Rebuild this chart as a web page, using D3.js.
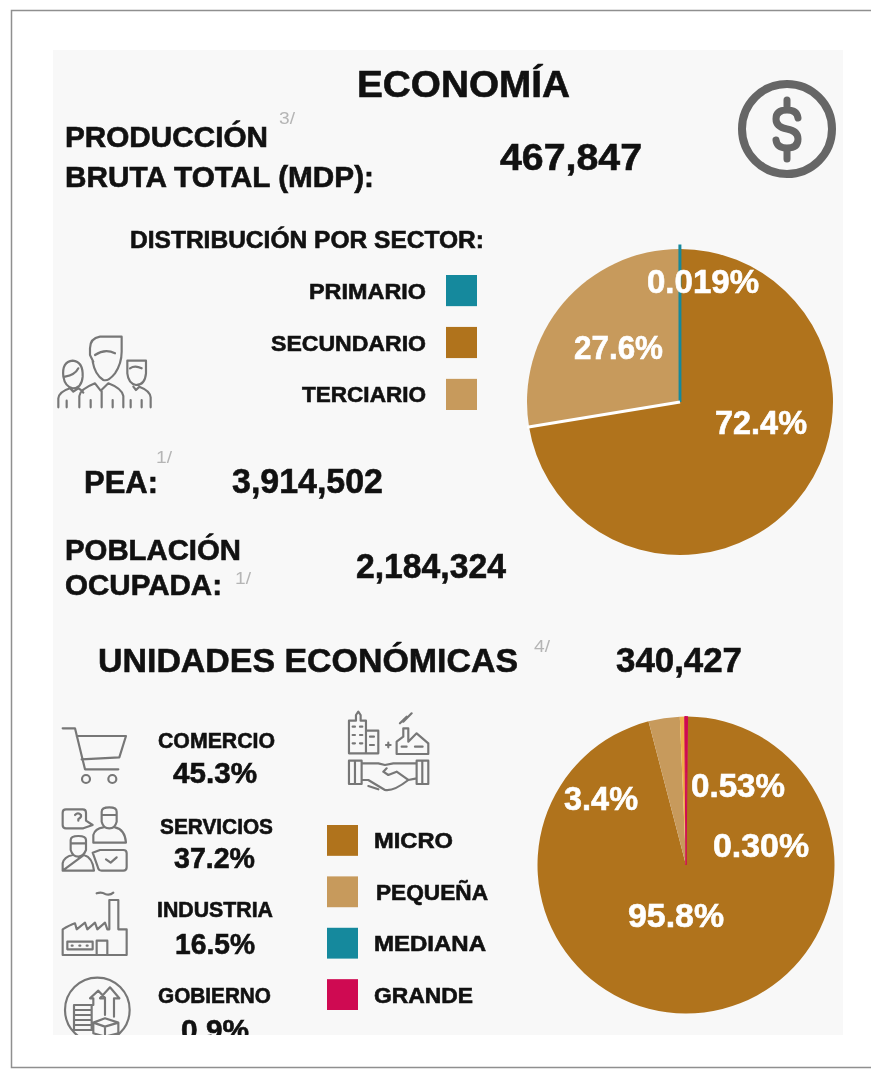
<!DOCTYPE html>
<html>
<head>
<meta charset="utf-8">
<script src="https://cdn.jsdelivr.net/npm/d3@7"></script>
<style>
  html, body { margin: 0; padding: 0; background: #fff; }
  svg { display: block; filter: blur(0.55px); }
  text { font-family: "Liberation Sans", Arial, sans-serif; font-weight: 700; }
</style>
</head>
<body>
<svg id="chart" width="871" height="1069"></svg>
<script>
// 生産額の部門別
const sectorNames = ["SECUNDARIO", "TERCIARIO", "PRIMARIO"];
const sectorValues = [72.4, 27.6, 0.019];
const sectorLabels = ["72.4%", "27.6%", "0.019%"];
const sectorLegend = ["PRIMARIO", "SECUNDARIO", "TERCIARIO"];

// 事業所の規模別
const sizeNames = ["MICRO", "PEQUEÑA", "MEDIANA", "GRANDE"];
const sizeValues = [95.8, 3.4, 0.53, 0.30];
const sizeLabels = ["95.8%", "3.4%", "0.53%", "0.30%"];

// 業種別
const activityNames = ["COMERCIO", "SERVICIOS", "INDUSTRIA", "GOBIERNO"];
const activityValues = ["45.3%", "37.2%", "16.5%", "0.9%"];

const brown = "#b0731c", tan = "#c79a5c", teal = "#15899d", crimson = "#cf0a52";
const sectorColor = d3.scaleOrdinal().domain(sectorNames).range([brown, tan, teal]);
// 円グラフでは MEDIANA が黄色で描かれている
const sizePieColor = d3.scaleOrdinal().domain(sizeNames).range([brown, tan, "#eeb04a", crimson]);
const sizeLegendColor = d3.scaleOrdinal().domain(sizeNames).range([brown, tan, teal, crimson]);

const svg = d3.select("#chart");

// 枠と背景
svg.append("path").attr("d", "M871,10.5H11.5V1067.5H871").attr("fill", "none").attr("stroke", "#8f8f8f").attr("stroke-width", 1.5);
svg.append("rect").attr("x", 53).attr("y", 50).attr("width", 790).attr("height", 985).attr("fill", "#f8f8f8");

svg.append("defs").append("clipPath").attr("id", "panel")
  .append("rect").attr("x", 53).attr("y", 50).attr("width", 790).attr("height", 985);

const root = svg.append("g").attr("clip-path", "url(#panel)");

// x0 から x1 の幅に文字を合わせる
function label(parent, str, x0, x1, y, size, color) {
  return parent.append("text").attr("x", x0).attr("y", y)
    .attr("font-size", size)
    .attr("textLength", x1 - x0)
    .attr("lengthAdjust", "spacingAndGlyphs")
    .attr("stroke", color || "#111").attr("stroke-width", 0.6)
    .attr("fill", color || "#111")
    .text(str);
}
function note(str, x, y) {
  return root.append("text").attr("x", x).attr("y", y).attr("font-size", 17)
    .attr("textLength", 16).attr("lengthAdjust", "spacingAndGlyphs")
    .attr("fill", "#b5b5b5").style("font-weight", 400).text(str);
}

// 見出し
label(root, "ECONOMÍA", 357, 570, 97, 37);
label(root, "PRODUCCIÓN", 65, 268, 147, 29);
label(root, "BRUTA TOTAL (MDP):", 65, 374, 187, 29);
label(root, "467,847", 500, 642, 170, 37);
note("3/", 279, 124);
label(root, "DISTRIBUCIÓN POR SECTOR:", 130, 484, 248, 24);

label(root, "PEA:", 84, 158, 493, 32);
note("1/", 156, 463);
label(root, "3,914,502", 232, 383, 493, 35);
label(root, "POBLACIÓN", 65, 241, 560, 29);
label(root, "OCUPADA:", 65, 222, 595, 29);
note("1/", 235, 584);
label(root, "2,184,324", 356, 506, 578, 35);
label(root, "UNIDADES ECONÓMICAS", 98, 518, 672, 34);
note("4/", 534, 652);
label(root, "340,427", 616, 742, 672, 35);

// 凡例(部門)
const sectorLegendX = [309, 271, 302];
const legendY = d3.scaleBand().domain(sectorLegend).range([275, 410]).paddingInner(0.4);
sectorLegend.forEach(function(d, i) {
  label(root, d, sectorLegendX[i], 426, legendY(d) + legendY.bandwidth() / 2 + 8, 22);
  root.append("rect").attr("x", 446).attr("y", legendY(d)).attr("width", 31).attr("height", legendY.bandwidth()).attr("fill", sectorColor(d));
});

// 凡例(規模)
const sizeLegendX = [[374, 453], [376, 488], [374, 486], [374, 473]];
const sizeLegendY = d3.scaleBand().domain(sizeNames).range([825, 1010]).paddingInner(0.4);
sizeNames.forEach(function(d, i) {
  label(root, d, sizeLegendX[i][0], sizeLegendX[i][1], sizeLegendY(d) + sizeLegendY.bandwidth() / 2 + 8, 22);
  root.append("rect").attr("x", 327).attr("y", sizeLegendY(d)).attr("width", 31).attr("height", sizeLegendY.bandwidth()).attr("fill", sizeLegendColor(d));
});

// 業種リスト
const activityNameX = [[158, 275], [160, 273], [157, 273], [158, 271]];
const activityValueX = [[173, 257], [174, 255], [175, 255], [181, 249]];
const activityNameY = [748, 834, 917, 1003];
const activityValueY = [783, 868, 954, 1040];
activityNames.forEach(function(d, i) {
  label(root, d, activityNameX[i][0], activityNameX[i][1], activityNameY[i], 22);
  label(root, activityValues[i], activityValueX[i][0], activityValueX[i][1], activityValueY[i], 29);
});

// 円グラフ1
const pie1 = root.append("g").attr("transform", "translate(680,402)");
const arc1 = d3.arc().innerRadius(0).outerRadius(153);
const slices1 = d3.pie().sort(null).value(d => d)(sectorValues);
pie1.selectAll("path").data(slices1).join("path")
  .attr("d", (d, i) => i === 2 ? d3.arc().innerRadius(0).outerRadius(156)(d) : arc1(d))
  .attr("fill", (d, i) => sectorColor(sectorNames[i]))
  .attr("stroke", (d, i) => i === 2 ? teal : "none")
  .attr("stroke-width", 2.8);
// SECUNDARIO と TERCIARIO の間の白線
const gapEnd = d3.pointRadial(slices1[1].startAngle, 155);
pie1.append("line").attr("x1", 0).attr("y1", 0).attr("x2", gapEnd[0]).attr("y2", gapEnd[1])
  .attr("stroke", "#fff").attr("stroke-width", 3);
const sectorLabelX = [[715, 807], [574, 663], [647, 759]];
const sectorLabelY = [434, 359, 293];
sectorLabels.forEach(function(d, i) {
  label(root, d, sectorLabelX[i][0], sectorLabelX[i][1], sectorLabelY[i], 33, "#fff");
});

// 円グラフ2
const pie2 = root.append("g").attr("transform", "translate(686,865)");
const arc2 = d3.arc().innerRadius(0).outerRadius(148.5);
const rot = 0.6 * Math.PI / 180;
const slices2 = d3.pie().sort(null).value(d => d).startAngle(rot).endAngle(2 * Math.PI + rot)(sizeValues);
pie2.selectAll("path").data(slices2).join("path")
  .attr("d", arc2)
  .attr("fill", (d, i) => sizePieColor(sizeNames[i]))
  .attr("stroke", (d, i) => i === 3 ? crimson : "none")
  .attr("stroke-width", 1);
const sizeLabelX = [[628, 724], [564, 638], [691, 785], [713, 809]];
const sizeLabelY = [927, 810, 797, 857];
sizeLabels.forEach(function(d, i) {
  label(root, d, sizeLabelX[i][0], sizeLabelX[i][1], sizeLabelY[i], 33, "#fff");
});

// アイコン(原図を3倍に拡大した座標で描く)
const iconStroke = "#777";
function icon(ox, oy, d, w) {
  return root.append("path").attr("transform", "translate(" + ox + "," + oy + ") scale(0.3333)")
    .attr("d", d).attr("fill", "none").attr("stroke", iconStroke)
    .attr("stroke-width", w || 6.5).attr("stroke-linejoin", "round").attr("stroke-linecap", "round");
}

// ドル
root.append("circle").attr("cx", 787).attr("cy", 129).attr("r", 45).attr("fill", "none").attr("stroke", "#666").attr("stroke-width", 8);
root.append("path")
  .attr("d", "M798,118q-1,-8 -11,-8q-11,0 -11,9q0,8 11,10q11,2 11,10q0,9 -11,9q-10,0 -11,-8M787,100V109M787,149V159")
  .attr("fill", "none").attr("stroke", "#666").attr("stroke-width", 7).attr("stroke-linecap", "round");

// 家族
icon(40, 320, "M160,125L150,105V85Q150,55 180,50H245V95Q245,130 225,160Q205,185 190,180Q165,165 158,125M165,105Q195,85 225,100"
  + "M118,262V228Q120,208 165,190L182,212L205,190Q245,205 250,228V262M152,262V240M218,262V240M185,212V262"
  + "M70,170Q65,125 98,122Q130,125 128,170Q125,205 98,205Q75,200 70,170M75,170Q105,165 115,145M55,262V235Q58,215 90,205L100,215L115,205Q125,210 130,218M80,262V242"
  + "M262,135V122H318V160Q315,195 288,195Q265,190 262,160ZM270,145Q285,135 305,145M280,200L288,210L298,200Q330,212 332,232V262M272,262V240M305,262V240");

// カート
icon(50, 700, "M38,85H75L105,208H205M80,108H228L208,172L95,178");
icon(50, 700, "M96,237a12,12 0 1,0 24,0a12,12 0 1,0 -24,0M175,237a12,12 0 1,0 24,0a12,12 0 1,0 -24,0");

// サービス
icon(50, 700, "M48,328H98Q108,328 108,338V362L128,375L100,385H48Q38,385 38,375V338Q38,328 48,328ZM75,345q9,-10 18,0q2,8 -8,12v5"
  + "M155,365V335Q155,322 178,322Q200,322 200,335V365Q195,385 178,385Q160,385 155,365ZM155,345H200M130,428V405Q135,385 160,382M195,382Q225,388 228,428H130"
  + "M62,440V420Q62,408 85,408Q108,408 108,420V450Q100,470 85,470Q68,470 62,450ZM62,430H108M38,512V490Q42,470 68,465M102,465Q128,472 132,512H38Z"
  + "M150,450H220Q230,450 230,460V502Q230,512 220,512H155Q145,512 143,500L128,458ZM168,478L182,488L200,472");

// 工場
icon(50, 700, "M38,765V688Q60,675 75,670L80,688L105,668L112,688L135,668L142,688L165,668L172,688H178V600H205V688H230V765ZM52,725H128V748H52ZM140,765V722H172V765M140,580Q155,575 165,582Q180,587 190,578M65,737H68M88,737H91M110,737H113");

// 政府
icon(50, 700, "M45,930a97,97 0 1,0 194,0a97,97 0 1,0 -194,0M165,945V895H150L180,862L208,895H192V950M130,915V895H120L145,872L165,893M72,915H125V990H72ZM72,930H125M72,945H125M72,960H125M72,975H125M130,968L165,955L205,968V1000L165,1010L130,1000ZM130,968L165,980L205,968M165,980V1010");

// 都市と握手
icon(50, 700, "M897,160V62H918V45L925,35L932,45V62H948V160ZM948,160V92H985V160ZM908,80H915M930,80H937M908,105H915M930,105H937M908,130H915M930,130H937M960,110H972M960,135H972M1008,135H1022M1015,128V142"
  + "M1040,162V125L1060,110V85H1075V125L1100,100L1135,130V162ZM1055,140H1070M1095,140H1118M1050,70L1070,50M1060,65L1085,40"
  + "M897,182H935V252H897ZM915,182V252M1100,182H1135V252H1100ZM1117,182V252M935,190H985L1005,195L1030,190H1100M1010,205L1000,215L1015,225L1040,215L1075,240L1100,235M935,240H955L1005,270Q1030,275 1075,240M955,258L985,268");
</script>
</body>
</html>
